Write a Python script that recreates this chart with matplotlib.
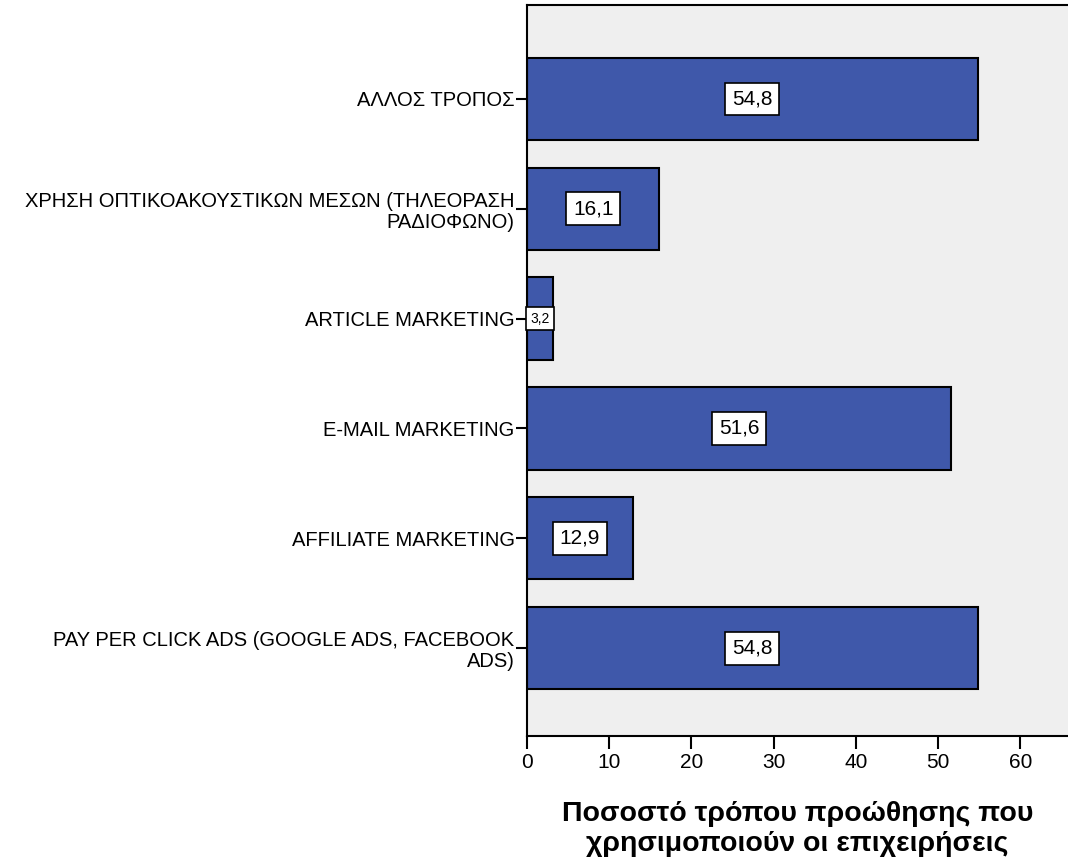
import matplotlib
matplotlib.use("Agg")
import matplotlib.pyplot as plt

plt.rcParams['font.family'] = ['Liberation Sans', 'DejaVu Sans']

# bottom to top
categories = [
    "PAY PER CLICK ADS (GOOGLE ADS, FACEBOOK\nADS)",
    "AFFILIATE MARKETING",
    "E-MAIL MARKETING",
    "ARTICLE MARKETING",
    "ΧΡΗΣΗ ΟΠΤΙΚΟΑΚΟΥΣΤΙΚΩΝ ΜΕΣΩΝ (ΤΗΛΕΟΡΑΣΗ\nΡΑΔΙΟΦΩΝΟ)",
    "ΑΛΛΟΣ ΤΡΟΠΟΣ",
]
values = [54.8, 12.9, 51.6, 3.2, 16.1, 54.8]
xticks = [0, 10, 20, 30, 40, 50, 60]

bar_color = '#3F58AA'
bg_color = '#EFEFEF'

fig = plt.figure(figsize=(10.68, 8.61), dpi=100)
ax = fig.add_axes([527 / 1068, 125 / 861, 541 / 1068, 731 / 861])
ax.set_facecolor(bg_color)

pos = list(range(len(categories)))
ax.barh(pos, values, height=0.75, color=bar_color, edgecolor='black', linewidth=1.5)

for y, v in zip(pos, values):
    small = v < 5
    ax.text(v / 2, y, f"{v:.1f}".replace('.', ','), ha='center', va='center',
            fontsize=10 if small else 15,
            bbox=dict(boxstyle='square,pad=0.3' if small else 'square,pad=0.33',
                      facecolor='white', edgecolor='black', linewidth=1.2))

ax.set_xlim(0, 65.8)
ax.set_ylim(-0.8, 5.855)
ax.set_yticks(pos)
ax.set_yticklabels(categories, fontsize=14.5, multialignment='right',
                   linespacing=1.15)
ax.set_xticks(xticks)
ax.set_xticklabels([str(t) for t in xticks], fontsize=15)
ax.tick_params(axis='y', length=8, width=1.5, pad=1)
ax.tick_params(axis='x', length=9, width=1.5, pad=3)

for side in ['left', 'bottom', 'top']:
    ax.spines[side].set_linewidth(1.5)
ax.spines['right'].set_visible(False)

ax.set_xlabel("Ποσοστό τρόπου προώθησης που\nχρησιμοποιούν οι επιχειρήσεις",
              fontsize=20.5, fontweight='bold', labelpad=21, linespacing=1.2)

fig.savefig("out.png", dpi=100, facecolor='white')
